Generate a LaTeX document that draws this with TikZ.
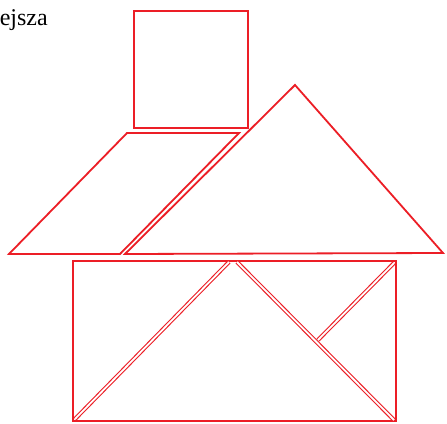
\documentclass[tikz,border=0pt]{standalone}
\usepackage{fontspec}
\setmainfont{Liberation Serif}
\usepackage{xcolor}
\definecolor{tanred}{RGB}{236,30,38}

\begin{document}
\begin{tikzpicture}[x=1pt, y=-1pt,
    piece/.style={draw=tanred, line width=1.8pt, line join=miter},
    cut/.style={draw=tanred, line width=1.1pt, double=white, double distance=1.8pt}]
    \clip (0,0) rectangle (447,423);
    \fill[white] (0,0) rectangle (447,423);

    \node[anchor=base east, inner sep=0pt, font=\fontsize{24}{28}\selectfont] (caption) at (48,25) {ejsza};

    % top square
    \draw[piece] (134,11) rectangle (248,128);

    % parallelogram and large triangle of the roof
    \draw[piece] (127,133) -- (239,133) -- (120,254) -- (9,254) -- cycle;
    \draw[piece] (125,254) -- (295,85) -- (443,253) -- cycle;

    % body of the house
    \draw[piece] (73,261) rectangle (396,421);
    \coordinate (bl) at (75,419);
    \coordinate (tml) at (229,262);
    \coordinate (tmr) at (237,262);
    \coordinate (br) at (394,420);
    \coordinate (tr) at (394,263);
    \coordinate (mid) at (318,340);
    \draw[cut] (bl) -- (tml);
    \draw[cut] (tmr) -- (br);
    \draw[cut] (tr) -- (mid);
\end{tikzpicture}
\end{document}
